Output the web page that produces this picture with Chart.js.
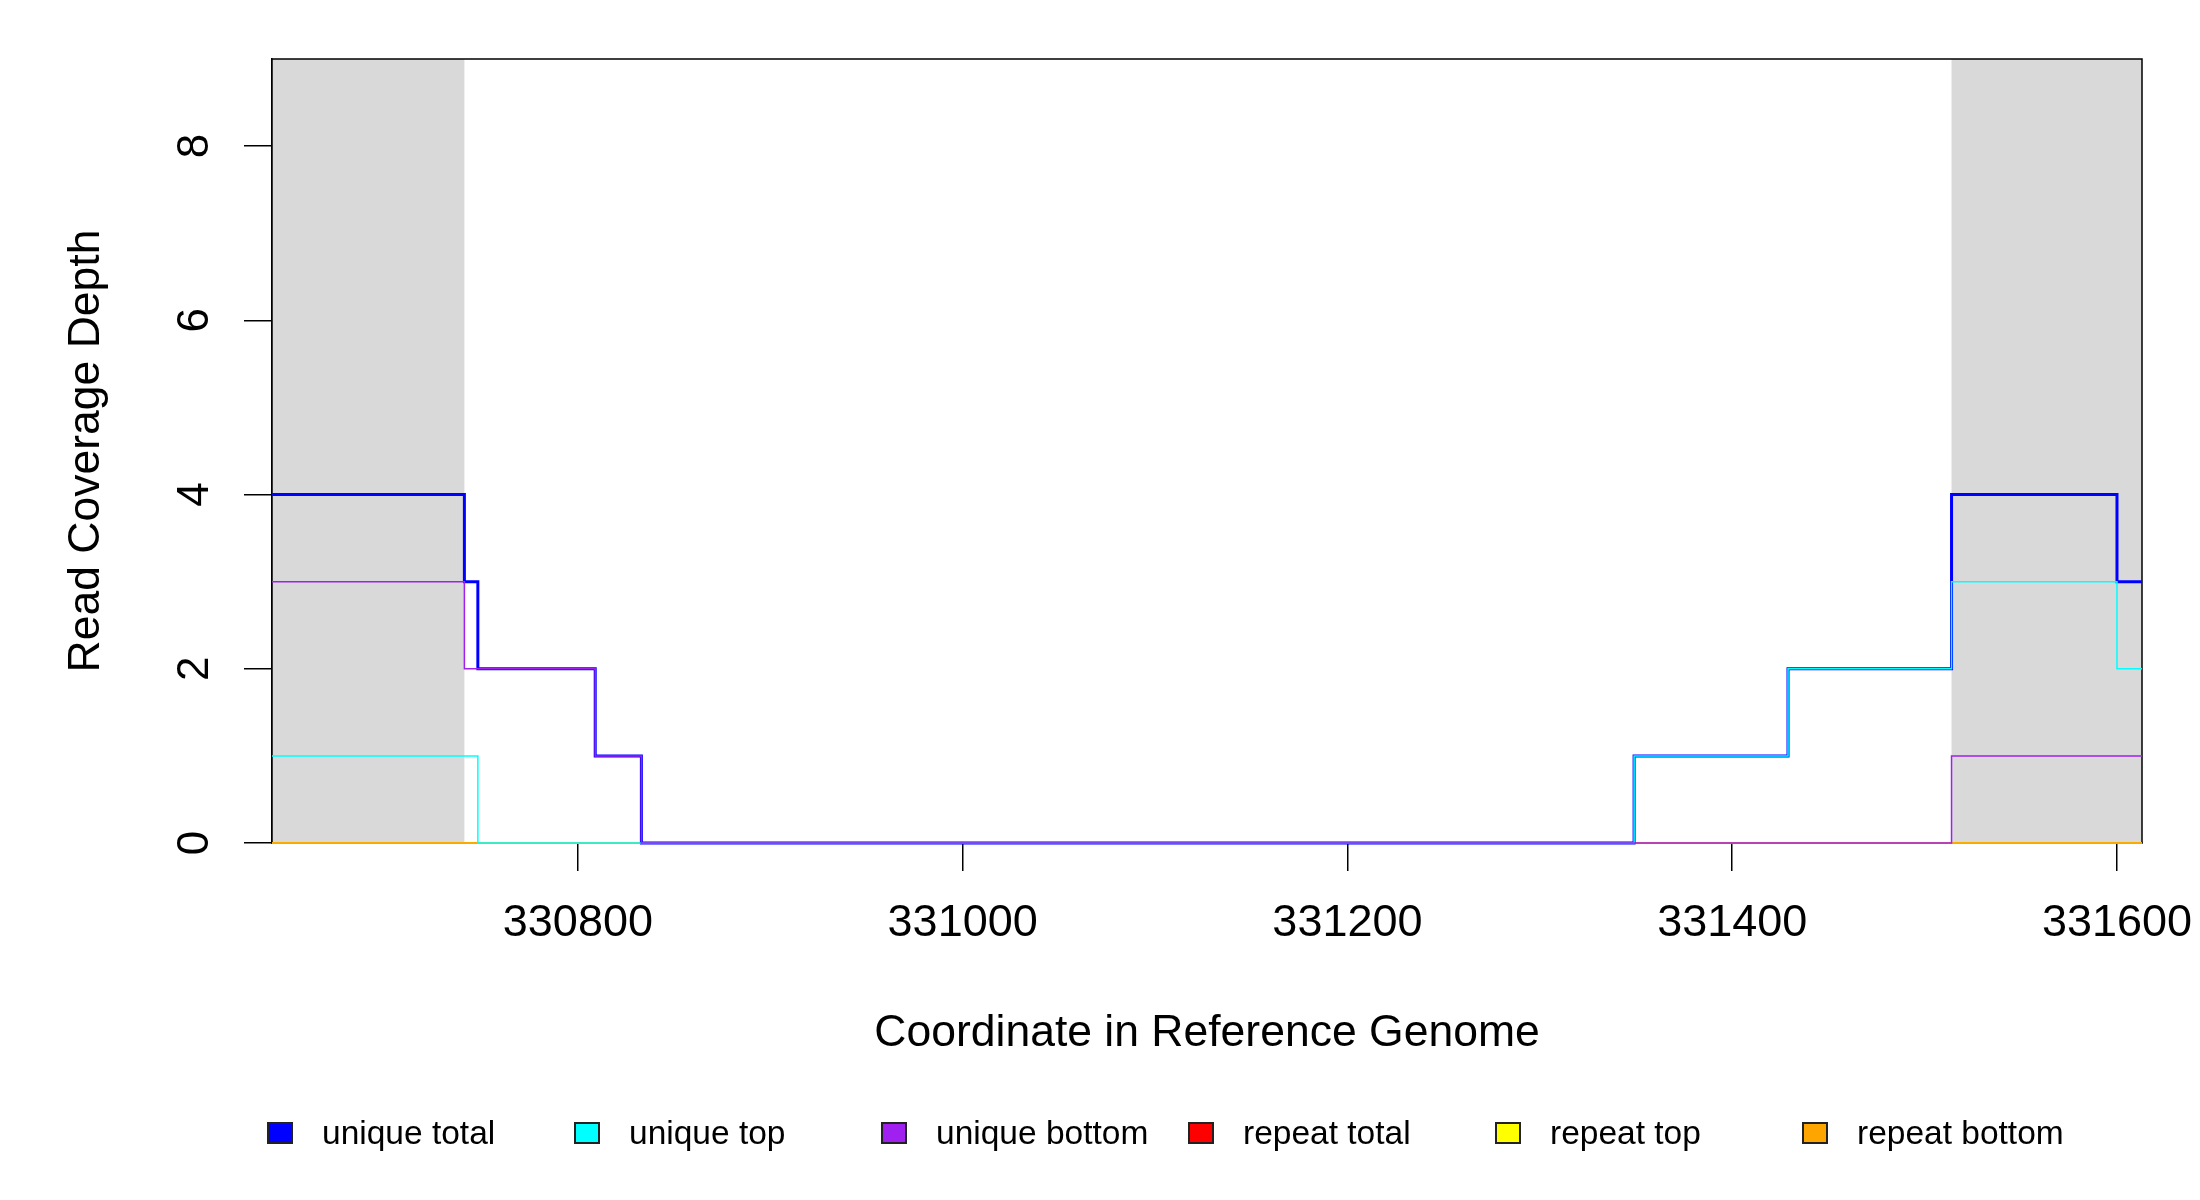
<!DOCTYPE html>
<html>
<head>
<meta charset="utf-8">
<script src="https://cdn.jsdelivr.net/npm/chart.js@4"></script>
<style>
  html, body { margin: 0; padding: 0; background: #fff; }
  #wrap { position: relative; width: 2200px; height: 1200px; }
  #leyenda { position: absolute; left: 0; top: 0; width: 2200px; height: 1200px; pointer-events: none;
    font-family: "Liberation Sans", Arial, sans-serif; font-size: 33.5px; color: #000; }
  .item { position: absolute; top: 1112px; height: 42px; display: flex; align-items: center; white-space: nowrap; }
  .caja { box-sizing: border-box; width: 26px; height: 22px; border: 2px solid #222; margin-right: 29px; }
  .texto { line-height: 1; }
</style>
</head>
<body>
<div id="wrap">
  <canvas id="grafico"></canvas>
  <div id="leyenda"></div>
</div>
<script>
// Posiciones donde empieza cada tramo (el ultimo es el final del eje)
const posiciones = [330641, 330741, 330748, 330809, 330833, 331349, 331429, 331514, 331600, 331613];

// Profundidad de cobertura en cada tramo
const uniqueTotal  = [4, 3, 2, 1, 0, 1, 2, 4, 3, 3];
const uniqueTop    = [1, 1, 0, 0, 0, 1, 2, 3, 2, 2];
const uniqueBottom = [3, 2, 2, 1, 0, 0, 0, 1, 1, 1];
const repeatTotal  = [0, 0, 0, 0, 0, 0, 0, 0, 0, 0];
const repeatTop    = [0, 0, 0, 0, 0, 0, 0, 0, 0, 0];
const repeatBottom = [0, 0, 0, 0, 0, 0, 0, 0, 0, 0];

// Zonas sombreadas (fuera de la region)
const zonasGris = [[330641, 330741], [331514, 331613]];

const xTicks = [330800, 331000, 331200, 331400, 331600];
const yTicks = [0, 2, 4, 6, 8];

const nombres = ['unique total', 'unique top', 'unique bottom', 'repeat total', 'repeat top', 'repeat bottom'];
const colores = ['#0000FF', '#00FFFF', '#A020F0', '#FF0000', '#FFFF00', '#FFA500'];
const series = [uniqueTotal, uniqueTop, uniqueBottom, repeatTotal, repeatTop, repeatBottom];
// orden de dibujo: mayor se dibuja primero
const ordenes = [3, 2, 1, 6, 5, 4];

const fuente = '"Liberation Sans", Arial, sans-serif';

const datasets = series.map((valores, i) => ({
  label: nombres[i],
  data: posiciones.map((x, j) => ({ x: x, y: valores[j] })),
  borderColor: colores[i],
  backgroundColor: colores[i],
  borderWidth: i === 0 ? 3 : 1.5,
  stepped: 'before',
  pointRadius: 0,
  fill: false,
  clip: { left: 0, right: 0, top: 0, bottom: 3 },
  order: ordenes[i]
}));

// Plugin para el fondo gris, la caja y las etiquetas del eje y
const extras = {
  id: 'extras',
  beforeDatasetsDraw(chart) {
    const { ctx, chartArea, scales } = chart;
    ctx.save();
    ctx.fillStyle = '#D9D9D9';
    zonasGris.forEach(([a, b]) => {
      const x1 = scales.x.getPixelForValue(a);
      const x2 = scales.x.getPixelForValue(b);
      ctx.fillRect(x1, chartArea.top, x2 - x1, chartArea.bottom - chartArea.top);
    });
    // caja alrededor del grafico (debajo de las lineas)
    ctx.strokeStyle = '#000';
    ctx.lineWidth = 1.5;
    ctx.strokeRect(chartArea.left, chartArea.top, chartArea.right - chartArea.left, chartArea.bottom - chartArea.top);
    ctx.restore();
  },
  afterDraw(chart) {
    const { ctx, scales } = chart;
    ctx.save();
    ctx.fillStyle = '#000';
    ctx.font = '44px ' + fuente;
    ctx.textAlign = 'center';
    ctx.textBaseline = 'alphabetic';
    scales.y.ticks.forEach(t => {
      const py = scales.y.getPixelForValue(t.value);
      ctx.save();
      ctx.translate(208, py);
      ctx.rotate(-Math.PI / 2);
      ctx.fillText(String(t.value), 0, 0);
      ctx.restore();
    });
    ctx.restore();
  }
};

new Chart(document.querySelector('#grafico'), {
  type: 'line',
  data: { datasets: datasets },
  plugins: [extras],
  options: {
    responsive: true,
    maintainAspectRatio: false,
    devicePixelRatio: 1,
    animation: false,
    layout: { padding: { top: 59, right: 58, bottom: 137, left: 0 } },
    plugins: { legend: { display: false }, tooltip: { enabled: false } },
    scales: {
      x: {
        type: 'linear',
        min: 330641,
        max: 331613,
        afterBuildTicks: (scale) => { scale.ticks = xTicks.map(v => ({ value: v })); },
        afterFit: (scale) => {
          scale.height = 220;
          // que las etiquetas no encojan el area del grafico
          scale.paddingLeft = 0;
          scale.paddingRight = 0;
        },
        ticks: { color: '#000', font: { family: fuente, size: 45 }, padding: 26, maxRotation: 0, autoSkip: false,
                 callback: (v) => String(v) },
        grid: { drawOnChartArea: false, drawTicks: true, tickLength: 28, color: '#000', lineWidth: 1.5 },
        border: { display: true, color: '#000', width: 1.5 },
        title: { display: true, text: 'Coordinate in Reference Genome', color: '#000',
                 font: { family: fuente, size: 44.5 }, padding: { top: 0, bottom: 3 } }
      },
      y: {
        min: 0,
        max: 9,
        afterBuildTicks: (scale) => { scale.ticks = yTicks.map(v => ({ value: v })); },
        afterFit: (scale) => { scale.width = 272; },
        ticks: { display: false },
        grid: { drawOnChartArea: false, drawTicks: true, tickLength: 28, color: '#000', lineWidth: 1.5 },
        border: { display: true, color: '#000', width: 1.5 },
        title: { display: true, text: 'Read Coverage Depth', color: '#000',
                 font: { family: fuente, size: 44.5 }, padding: { top: 60, bottom: 0 } }
      }
    }
  }
});

// Leyenda horizontal como en el original
const leyenda = document.querySelector('#leyenda');
nombres.forEach((nombre, i) => {
  const item = document.createElement('div');
  item.className = 'item';
  item.style.left = (267 + i * 307) + 'px';
  item.innerHTML = `<span class="caja" style="background:${colores[i]}"></span><span class="texto">${nombre}</span>`;
  leyenda.appendChild(item);
});
</script>
</body>
</html>
